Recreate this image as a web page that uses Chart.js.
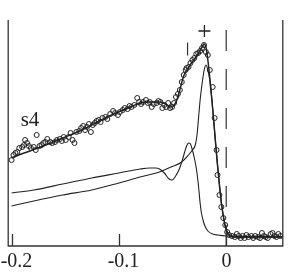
<!DOCTYPE html>
<html>
<head>
<meta charset="utf-8">
<script src="https://cdn.jsdelivr.net/npm/chart.js@4"></script>
<style>
  html, body { margin: 0; padding: 0; background: #fff; }
  canvas { display: block; }
</style>
</head>
<body>
<canvas id="edc" width="291" height="274"></canvas>
<script>
// measured spectrum: energy (eV) and intensity (arb. units)
const dataE = [-0.2000, -0.1982, -0.1964, -0.1946, -0.1928, -0.1901, -0.1883, -0.1874, -0.1856, -0.1838,
    -0.1820, -0.1793, -0.1775, -0.1766, -0.1739, -0.1721, -0.1703, -0.1685, -0.1667, -0.1640,
    -0.1622, -0.1595, -0.1577, -0.1550, -0.1532, -0.1514, -0.1495, -0.1468, -0.1450, -0.1432,
    -0.1414, -0.1396, -0.1369, -0.1351, -0.1333, -0.1315, -0.1297, -0.1279, -0.1261, -0.1243,
    -0.1225, -0.1207, -0.1189, -0.1171, -0.1153, -0.1126, -0.1108, -0.1081, -0.1054, -0.1036,
    -0.1009, -0.0991, -0.0964, -0.0946, -0.0919, -0.0901, -0.0883, -0.0856, -0.0829, -0.0811,
    -0.0793, -0.0775, -0.0748, -0.0730, -0.0712, -0.0694, -0.0676, -0.0649, -0.0631, -0.0613,
    -0.0595, -0.0577, -0.0559, -0.0541, -0.0523, -0.0505, -0.0486, -0.0468, -0.0450, -0.0432,
    -0.0414, -0.0396, -0.0378, -0.0369, -0.0351, -0.0333, -0.0315, -0.0297, -0.0279, -0.0261,
    -0.0243, -0.0225, -0.0207, -0.0189, -0.0171, -0.0153, -0.0126, -0.0108, -0.0090, -0.0081,
    -0.0063, -0.0045, -0.0027, -0.0009, 0.0009, 0.0027, 0.0054, 0.0081, 0.0099, 0.0117,
    0.0135, 0.0153, 0.0171, 0.0189, 0.0207, 0.0234, 0.0252, 0.0270, 0.0297, 0.0315,
    0.0333, 0.0351, 0.0369, 0.0387, 0.0414, 0.0432, 0.0450, 0.0468, 0.0486, 0.0505];
const dataI = [86, 91, 93, 94, 98, 99, 101, 106, 103, 100,
    98, 99, 96, 111, 100, 101, 103, 104, 107, 104,
    103, 104, 106, 107, 105, 109, 106, 109, 113, 106,
    103, 114, 115, 118, 120, 116, 119, 122, 114, 121,
    123, 125, 126, 124, 128, 129, 127, 132, 135, 133,
    131, 134, 136, 138, 137, 140, 139, 141, 148, 144,
    142, 144, 146, 143, 144, 139, 142, 143, 145, 144,
    138, 141, 139, 143, 138, 139, 143, 149, 152, 156,
    164, 171, 176, 178, 179, 183, 186, 188, 192, 193,
    195, 198, 201, 194, 191, 176, 159, 128, 96, 71,
    51, 39, 28, 21, 14, 11, 10, 9, 12, 10,
    8, 10, 8, 11, 9, 10, 8, 10, 9, 8,
    13, 10, 9, 8, 12, 13, 10, 9, 12, 10];

// total fit
const fitE = [-0.2000, -0.1883, -0.1703, -0.1523, -0.1342, -0.1162, -0.1027, -0.0892, -0.0802, -0.0712,
    -0.0622, -0.0568, -0.0514, -0.0477, -0.0450, -0.0423, -0.0396, -0.0360, -0.0324, -0.0288,
    -0.0252, -0.0225, -0.0207, -0.0189, -0.0171, -0.0153, -0.0135, -0.0117, -0.0099, -0.0081,
    -0.0063, -0.0045, -0.0027, -0.0009, 0.0009, 0.0036, 0.0081, 0.0523];
const fitI = [88, 93, 100, 108, 116, 126, 133, 139, 143, 144,
    144, 142, 139, 142, 149, 160, 170, 177, 183, 188,
    194, 199, 202, 199, 186, 168, 148, 126, 103, 81,
    61, 43, 30, 20, 14, 10, 9, 9];

// broad component (hump near -0.035)
const broadE = [-0.2000, -0.1793, -0.1523, -0.1252, -0.1000, -0.0802, -0.0712, -0.0658, -0.0622, -0.0577,
    -0.0532, -0.0505, -0.0477, -0.0441, -0.0414, -0.0387, -0.0369, -0.0351, -0.0333, -0.0315,
    -0.0297, -0.0279, -0.0261, -0.0243, -0.0234, -0.0216, -0.0198, -0.0171, -0.0126, -0.0081,
    0.0009, 0.0523];
const broadI = [53, 56, 62, 68, 73, 77, 78, 78, 77, 73,
    67, 66, 69, 76, 84, 94, 100, 103, 102, 96,
    88, 78, 63, 43, 35, 26, 20, 15, 12, 11,
    10, 9];

// sharp component (peak near -0.019)
const peakE = [-0.2000, -0.1793, -0.1523, -0.1252, -0.1000, -0.0802, -0.0622, -0.0514, -0.0414, -0.0351,
    -0.0315, -0.0288, -0.0270, -0.0261, -0.0243, -0.0225, -0.0207, -0.0189, -0.0171, -0.0153,
    -0.0135, -0.0117, -0.0099, -0.0081, -0.0063, -0.0045, -0.0027, -0.0009, 0.0009, 0.0036,
    0.0099, 0.0523];
const peakI = [40, 45, 51, 56, 63, 69, 74, 79, 84, 91,
    96, 101, 113, 124, 146, 162, 175, 181, 176, 166,
    148, 126, 103, 81, 61, 43, 30, 20, 14, 10,
    9, 9];

// markers above the peak and Fermi level
const barE = [-0.036];
const barI = [197];
const plusE = [-0.0203];
const plusI = [215];
const fermiE = [0, 0];
const fermiI = [216, 0];

const tickValues = [-0.2, -0.1, 0];
const tickLabels = ['-0.2', '-0.1', '0'];
const panelLabel = 's4';

const pts = (xs, ys) => xs.map((x, i) => ({ x: x, y: ys[i] }));

const ink = '#222';

const framePlugin = {
    id: 'frame',
    afterDatasetsDraw(chart) {
        const ctx = chart.ctx;
        const a = chart.chartArea;
        const xs = chart.scales.x;
        const ys = chart.scales.y;
        ctx.save();
        ctx.strokeStyle = '#333';
        ctx.lineWidth = 1.3;
        ctx.beginPath();
        ctx.moveTo(a.left + 0.5, a.top);
        ctx.lineTo(a.left + 0.5, a.bottom);
        ctx.lineTo(a.right - 0.5, a.bottom);
        ctx.lineTo(a.right - 0.5, a.top);
        ctx.stroke();

        // inward ticks and labels
        ctx.fillStyle = ink;
        ctx.font = '20px "Liberation Serif"';
        ctx.textBaseline = 'alphabetic';
        tickValues.forEach((v, i) => {
            const px = Math.round(xs.getPixelForValue(v)) + 0.5;
            ctx.beginPath();
            ctx.moveTo(px, a.bottom);
            ctx.lineTo(px, a.bottom - 12);
            ctx.stroke();
            const w = ctx.measureText(tickLabels[i]).width;
            let cx = tickLabels[i].startsWith('-') ? px + 4 : px;
            let left = Math.max(0, cx - w / 2);
            ctx.textAlign = 'left';
            ctx.fillText(tickLabels[i], left, a.bottom + 21);
        });

        ctx.font = '21px "Liberation Serif"';
        ctx.textAlign = 'left';
        ctx.fillText(panelLabel, xs.getPixelForValue(-0.1915), ys.getPixelForValue(120));
        ctx.restore();
    }
};

const lineSet = (data, width) => ({
    data: data,
    showLine: true,
    borderColor: ink,
    borderWidth: width,
    pointRadius: 0,
    cubicInterpolationMode: 'monotone',
    fill: false
});

const CreateChart = () => {
    new Chart($$('edc'), {
        type: 'scatter',
        data: {
            datasets: [
                {
                    data: pts(dataE, dataI),
                    pointStyle: 'circle',
                    pointRadius: 2.5,
                    borderWidth: 1,
                    borderColor: ink,
                    backgroundColor: 'rgba(255,255,255,0)'
                },
                lineSet(pts(fitE, fitI), 1.5),
                lineSet(pts(broadE, broadI), 1.1),
                lineSet(pts(peakE, peakI), 1.1),
                {
                    data: pts(fermiE, fermiI),
                    showLine: true,
                    borderColor: '#333',
                    borderWidth: 1.2,
                    borderDash: [21, 18],
                    pointRadius: 0
                },
                {
                    data: pts(barE, barI),
                    pointStyle: 'line',
                    rotation: 90,
                    pointRadius: 6.5,
                    borderWidth: 1.2,
                    borderColor: '#333'
                },
                {
                    data: pts(plusE, plusI),
                    pointStyle: 'cross',
                    pointRadius: 6,
                    borderWidth: 1.3,
                    borderColor: ink
                }
            ]
        },
        options: {
            responsive: false,
            animation: false,
            layout: { padding: { left: 3, right: 3, top: 20, bottom: 28 } },
            plugins: {
                legend: { display: false },
                tooltip: { enabled: false }
            },
            scales: {
                x: { type: 'linear', min: -0.2036, max: 0.0532, display: false },
                y: { type: 'linear', min: 0, max: 226, display: false }
            }
        },
        plugins: [framePlugin]
    });
};

const $$ = el => document.getElementById(el);

CreateChart();
</script>
</body>
</html>
